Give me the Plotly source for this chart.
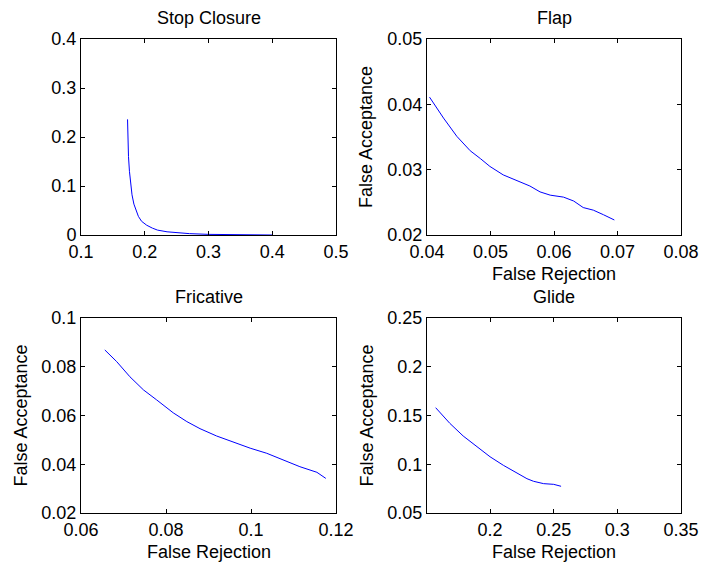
import plotly.graph_objects as go

# ---- data ----
stop_fr = [0.1730, 0.1735, 0.1745, 0.1760, 0.1780, 0.1800, 0.1830, 0.1860, 0.1900, 0.1950,
           0.2030, 0.2120, 0.2200, 0.2350, 0.2500, 0.2700, 0.3000, 0.3300, 0.3600, 0.4000]
stop_fa = [0.236, 0.200, 0.160, 0.130, 0.100, 0.082, 0.063, 0.050, 0.038, 0.028,
           0.020, 0.014, 0.010, 0.0065, 0.0045, 0.0028, 0.0013, 0.0006, 0.0002, 0.0]

flap_fr = [0.0404, 0.0426, 0.0447, 0.0468, 0.0484, 0.0499, 0.0520, 0.0541, 0.0562, 0.0578,
           0.0594, 0.0615, 0.0631, 0.0646, 0.0662, 0.0678, 0.0695]
flap_fa = [0.0411, 0.0379, 0.0351, 0.0329, 0.0317, 0.0305, 0.0292, 0.0283, 0.0275, 0.0266,
           0.0261, 0.0258, 0.0252, 0.0242, 0.0238, 0.0231, 0.0223]

fric_fr = [0.0656, 0.0684, 0.0715, 0.0747, 0.0778, 0.0817, 0.0849, 0.0880, 0.0919, 0.0958,
           0.0998, 0.1037, 0.1076, 0.1115, 0.1155, 0.1176]
fric_fa = [0.0869, 0.0821, 0.0759, 0.0705, 0.0664, 0.0611, 0.0575, 0.0546, 0.0516, 0.0490,
           0.0466, 0.0445, 0.0417, 0.0390, 0.0367, 0.0342]

glide_fr = [0.1573, 0.1684, 0.1789, 0.1895, 0.2000, 0.2105, 0.2211, 0.2290, 0.2342, 0.2421,
            0.2500, 0.2558]
glide_fa = [0.158, 0.142, 0.129, 0.118, 0.1077, 0.0989, 0.0914, 0.0852, 0.0825, 0.0801,
            0.0794, 0.0774]

titles = ["Stop Closure", "Flap", "Fricative", "Glide"]
x_label = "False Rejection"
y_label = "False Acceptance"

stop_xticks = [0.1, 0.2, 0.3, 0.4, 0.5]
stop_yticks = [0, 0.1, 0.2, 0.3, 0.4]
flap_xticks = [0.04, 0.05, 0.06, 0.07, 0.08]
flap_yticks = [0.02, 0.03, 0.04, 0.05]
fric_xticks = [0.06, 0.08, 0.1, 0.12]
fric_yticks = [0.02, 0.04, 0.06, 0.08, 0.1]
glide_xticks = [0.2, 0.25, 0.3, 0.35]
glide_yticks = [0.05, 0.1, 0.15, 0.2, 0.25]

W, H = 701, 569
FONT = "Liberation Sans, Arial, Helvetica, sans-serif"
FS = 18

# pixel boxes (left, right, top, bottom)
boxes = [(81, 336, 39, 235), (427, 681, 39, 235), (81, 336, 318, 513), (427, 681, 318, 513)]

def xd(b):
    return [b[0] / W, b[1] / W]

def yd(b):
    return [1 - b[3] / H, 1 - b[2] / H]

fig = go.Figure()
series = [(stop_fr, stop_fa), (flap_fr, flap_fa), (fric_fr, fric_fa), (glide_fr, glide_fa)]
ranges = [([0.1, 0.5], [0, 0.4]), ([0.04, 0.08], [0.02, 0.05]),
          ([0.06, 0.12], [0.02, 0.1]), ([0.1505, 0.35], [0.05, 0.25])]
ticks = [(stop_xticks, stop_yticks), (flap_xticks, flap_yticks),
         (fric_xticks, fric_yticks), (glide_xticks, glide_yticks)]

layout = {}
for i, ((xs, ys), (xr, yr), (xt, yt), b) in enumerate(zip(series, ranges, ticks, boxes)):
    n = "" if i == 0 else str(i + 1)
    fig.add_trace(go.Scatter(x=xs, y=ys, mode="lines", line=dict(color="#0000ff", width=1),
                             xaxis="x" + n, yaxis="y" + n, showlegend=False))
    common = dict(showgrid=False, zeroline=False, showline=True, linecolor="black", linewidth=1,
                  mirror="ticks", ticks="inside", ticklen=4, tickwidth=1, tickcolor="black",
                  automargin=False,
                  tickfont=dict(family=FONT, size=FS, color="black"))
    layout["xaxis" + n] = dict(domain=xd(b), range=xr, tickvals=xt,
                               ticktext=[f"{v:g}" for v in xt], anchor="y" + n, **common)
    layout["yaxis" + n] = dict(domain=yd(b), range=yr, tickvals=yt,
                               ticktext=[f"{v:g}" for v in yt], anchor="x" + n, **common)

fig.update_layout(**layout)

ann = []
title_y = [18, 18, 297, 297]
for t, b, ty in zip(titles, boxes, title_y):
    ann.append(dict(text=t, x=(b[0] + b[1]) / 2 / W, y=1 - ty / H, xref="paper", yref="paper",
                    xanchor="center", yanchor="middle", showarrow=False,
                    font=dict(family=FONT, size=FS, color="black")))
# axis labels for flap, fricative, glide
for b, lx, ly in [(boxes[1], 366, 274), (boxes[2], 20, 552), (boxes[3], 366, 552)]:
    ann.append(dict(text=x_label, x=(b[0] + b[1]) / 2 / W, y=1 - ly / H, xref="paper", yref="paper",
                    xanchor="center", yanchor="middle", showarrow=False,
                    font=dict(family=FONT, size=FS, color="black")))
    ann.append(dict(text=y_label, x=lx / W, y=1 - (b[2] + b[3]) / 2 / H, xref="paper", yref="paper",
                    xanchor="center", yanchor="middle", textangle=-90, showarrow=False,
                    font=dict(family=FONT, size=FS, color="black")))

fig.update_layout(annotations=ann, width=W, height=H, margin=dict(l=0, r=0, t=0, b=0),
                  paper_bgcolor="white", plot_bgcolor="white",
                  font=dict(family=FONT, size=FS, color="black"))

fig.write_html("out.html", include_plotlyjs=True, config={"displayModeBar": False})
